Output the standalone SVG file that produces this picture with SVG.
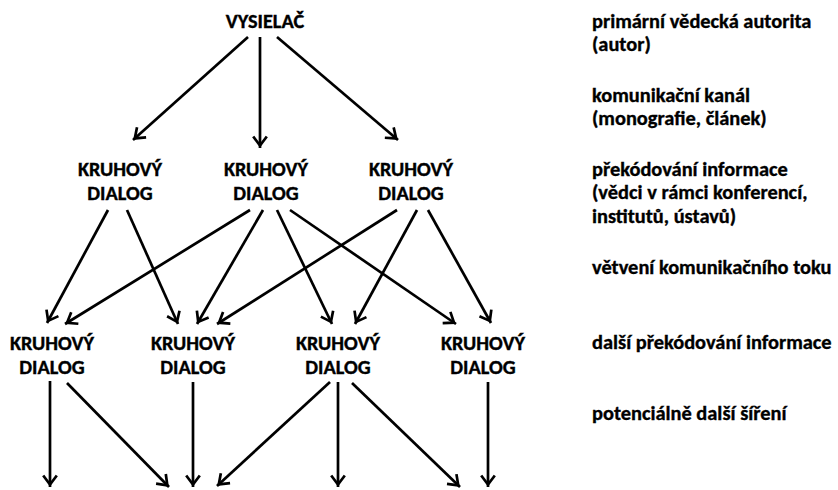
<svg xmlns="http://www.w3.org/2000/svg" width="838" height="490" viewBox="0 0 838 490">
  <style>
    text { font-family: Carlito, Lato, "Open Sans", sans-serif; font-weight: 700; fill: #000; stroke: #000; stroke-width: 0.35; }
    .node text { font-size: 20.3px; text-anchor: middle; }
    .note { font-size: 20.4px; }
    .edge { stroke: #000; stroke-width: 2.7; fill: none; marker-end: url(#arrow); }
  </style>
  <defs>
    <marker id="arrow" markerUnits="userSpaceOnUse" viewBox="-14 -9 16 18" markerWidth="16" markerHeight="18" refX="0" refY="0" orient="auto" overflow="visible">
      <path d="M-11.5,-6.8 L-2.4,0 L-11.5,6.8" fill="none" stroke="#000" stroke-width="2.7" stroke-linejoin="miter"/>
    </marker>
  </defs>

  <rect width="838" height="490" fill="#fff"/>

  <!-- connectors -->
  <g id="connectors">
    <line class="edge" x1="248" y1="37" x2="133" y2="140"/>
    <line class="edge" x1="260" y1="37" x2="260" y2="148"/>
    <line class="edge" x1="277" y1="37" x2="398" y2="140"/>

    <line class="edge" x1="108" y1="210" x2="47" y2="323"/>
    <line class="edge" x1="127" y1="210" x2="178" y2="324"/>
    <line class="edge" x1="250" y1="210" x2="65" y2="324"/>
    <line class="edge" x1="263" y1="210" x2="197" y2="324"/>
    <line class="edge" x1="277" y1="210" x2="332" y2="324"/>
    <line class="edge" x1="290" y1="210" x2="456" y2="324"/>
    <line class="edge" x1="397" y1="210" x2="217" y2="324"/>
    <line class="edge" x1="417" y1="210" x2="355" y2="324"/>
    <line class="edge" x1="428" y1="210" x2="491" y2="323"/>

    <line class="edge" x1="50" y1="381" x2="50" y2="487"/>
    <line class="edge" x1="67" y1="383" x2="169" y2="487"/>
    <line class="edge" x1="193" y1="382" x2="193" y2="487"/>
    <line class="edge" x1="330" y1="382" x2="217" y2="486"/>
    <line class="edge" x1="338" y1="382" x2="338" y2="487"/>
    <line class="edge" x1="352" y1="383" x2="460" y2="487"/>
    <line class="edge" x1="488" y1="382" x2="488" y2="487"/>
  </g>

  <!-- nodes -->
  <g id="vysielac" class="node"><text x="265" y="28">VYSIELAČ</text></g>

  <g id="dialog-a" class="node"><text x="120" y="176">KRUHOVÝ</text><text x="120" y="200">DIALOG</text></g>
  <g id="dialog-b" class="node"><text x="266" y="176">KRUHOVÝ</text><text x="266" y="200">DIALOG</text></g>
  <g id="dialog-c" class="node"><text x="411" y="176">KRUHOVÝ</text><text x="411" y="200">DIALOG</text></g>

  <g id="dialog-d" class="node"><text x="52" y="350">KRUHOVÝ</text><text x="52" y="374">DIALOG</text></g>
  <g id="dialog-e" class="node"><text x="193" y="350">KRUHOVÝ</text><text x="193" y="374">DIALOG</text></g>
  <g id="dialog-f" class="node"><text x="338" y="350">KRUHOVÝ</text><text x="338" y="374">DIALOG</text></g>
  <g id="dialog-g" class="node"><text x="483" y="350">KRUHOVÝ</text><text x="483" y="374">DIALOG</text></g>

  <!-- level descriptions -->
  <g id="legend">
    <text class="note" x="592" y="28">primární vědecká autorita</text>
    <text class="note" x="592" y="51">(autor)</text>
    <text class="note" x="592" y="102">komunikační kanál</text>
    <text class="note" x="592" y="125">(monografie, článek)</text>
    <text class="note" x="592" y="176">překódování informace</text>
    <text class="note" x="592" y="199">(vědci v rámci konferencí,</text>
    <text class="note" x="592" y="223">institutů, ústavů)</text>
    <text class="note" x="592" y="274">větvení komunikačního toku</text>
    <text class="note" x="592" y="349">další překódování informace</text>
    <text class="note" x="592" y="420">potenciálně další šíření</text>
  </g>
</svg>
